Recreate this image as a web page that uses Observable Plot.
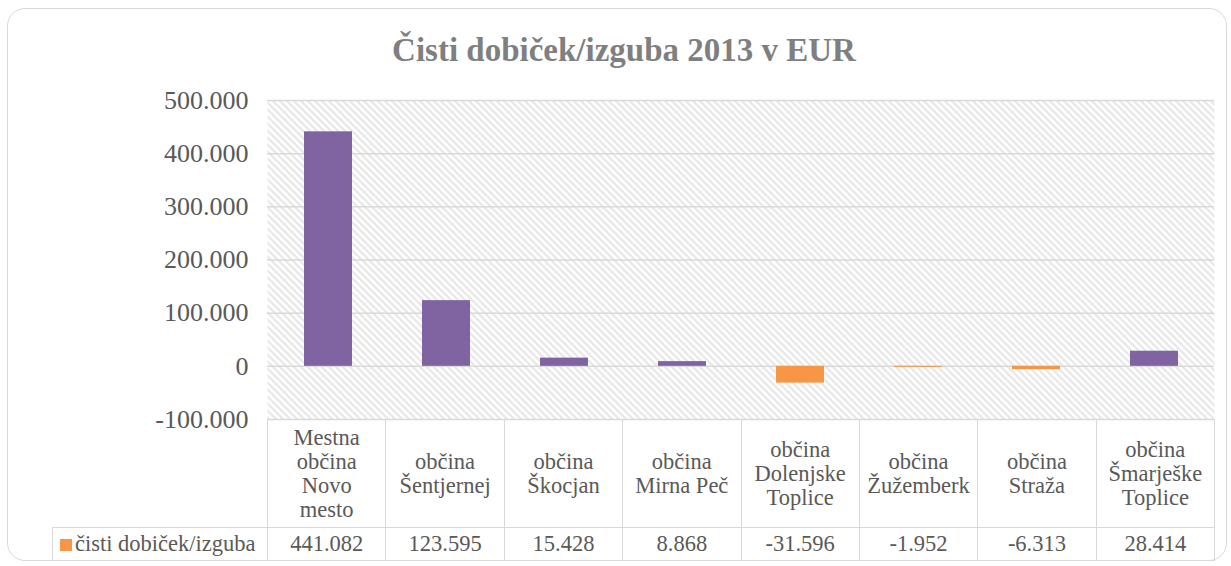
<!DOCTYPE html>
<html>
<head>
<meta charset="utf-8">
<script src="https://cdn.jsdelivr.net/npm/d3@7"></script>
<script src="https://cdn.jsdelivr.net/npm/@observablehq/plot@0.6"></script>
<style>
  html, body { margin: 0; padding: 0; background: #fff; overflow: hidden; }
  #wrap { position: relative; width: 1231px; height: 566px; font-family: "Liberation Serif", serif; }
  #card { position: absolute; left: 7px; top: 8px; width: 1220px; height: 553px;
          border: 1.5px solid #d9d9d9; border-radius: 18px; box-sizing: border-box; }
  #title { position: absolute; left: 0; width: 1248px; top: 30px; text-align: center;
           font-family: "Liberation Serif", serif;
           font-weight: bold; font-size: 33px; color: #7f7f7f; line-height: 40px; }
  #chart { position: absolute; left: 0; top: 80px; }
  #tbl { position: absolute; left: 52px; top: 419px; border-collapse: collapse; table-layout: fixed;
         color: #595959; font-family: "Liberation Serif", serif; font-size: 22.5px; }
  #tbl td { border: 1.5px solid #d9d9d9; text-align: center; vertical-align: middle; padding: 0;
            white-space: pre-line; line-height: 24px; font-family: "Liberation Serif", serif;
            font-size: 22.5px; color: #595959; }
  #tbl tr.cats td { height: 107px; }
  #tbl tr.vals td { height: 32px; }
  #tbl tr.cats td.blank { border-left: none; border-top: none; }
  .key { display: inline-block; width: 12px; height: 12px; background: #f79646; margin-right: 3px; vertical-align: 0px; }
</style>
</head>
<body>
<div id="wrap">
  <div id="card"></div>
  <div id="title"></div>
  <div id="chart"></div>
  <table id="tbl"></table>
</div>
<script>
const titleText = "Čisti dobiček/izguba 2013 v EUR";
const seriesName = "čisti dobiček/izguba";
const categories = [
  "Mestna\nobčina\nNovo\nmesto",
  "občina\nŠentjernej",
  "občina\nŠkocjan",
  "občina\nMirna Peč",
  "občina\nDolenjske\nToplice",
  "občina\nŽužemberk",
  "občina\nStraža",
  "občina\nŠmarješke\nToplice"
];
const values = [441082, 123595, 15428, 8868, -31596, -1952, -6313, 28414];
const yTicks = [-100000, 0, 100000, 200000, 300000, 400000, 500000];

const purple = "#8064a2";
const orange = "#f79646";

const locale = d3.formatLocale({decimal: ",", thousands: ".", grouping: [3], currency: ["", ""], minus: "-"});
const fmt = locale.format(",");

const data = categories.map((c, i) => ({cat: c, value: values[i]}));

document.getElementById("title").textContent = titleText;

const plot = Plot.plot({
  width: 1231,
  height: 486,
  marginLeft: 267,
  marginRight: 17,
  marginTop: 20,
  marginBottom: 147,
  style: {fontFamily: "Liberation Serif, serif", fontSize: "26px", color: "#595959", background: "transparent"},
  x: {domain: categories, paddingInner: 0.595, paddingOuter: 0.2975, axis: null},
  y: {domain: [-100000, 500000], axis: null},
  marks: [
    Plot.frame({fill: "url(#hatch)", stroke: "none"}),
    Plot.gridY(yTicks, {stroke: "#d9d9d9", strokeOpacity: 1, strokeWidth: 1.5}),
    Plot.barY(data.filter(d => d.value >= 0), {x: "cat", y: "value", fill: purple}),
    Plot.barY(data.filter(d => d.value < 0), {x: "cat", y: "value", fill: orange}),
    Plot.axisY(yTicks, {tickSize: 0, tickPadding: 19, tickFormat: fmt, fill: "#595959", fontSize: 26, label: null})
  ]
});

// hatch pattern definition for the plot background
const svgNS = "http://www.w3.org/2000/svg";
const defs = document.createElementNS(svgNS, "defs");
defs.innerHTML = '<pattern id="hatch" patternUnits="userSpaceOnUse" width="7" height="7">' +
  '<rect width="7" height="7" fill="#ffffff"/>' +
  '<path d="M-2,-2 L9,9 M-2,5 L2,9 M5,-2 L9,2" stroke="#e0e0e0" stroke-width="1.6"/>' +
  '</pattern>';
plot.insertBefore(defs, plot.firstChild);
document.getElementById("chart").appendChild(plot);

// data table below the chart
const tbl = d3.select("#tbl");
const colgroup = tbl.append("colgroup");
colgroup.append("col").style("width", "215px");
categories.forEach(() => colgroup.append("col").style("width", "118.375px"));
const r1 = tbl.append("tr").attr("class", "cats");
r1.append("td").attr("class", "blank");
r1.selectAll("td.c").data(categories).join("td").attr("class", "c").text(d => d);
const r2 = tbl.append("tr").attr("class", "vals");
const lc = r2.append("td").style("text-align", "left").style("padding-left", "7px");
lc.append("span").attr("class", "key");
lc.append("span").text(seriesName);
r2.selectAll("td.v").data(values).join("td").attr("class", "v").text(d => fmt(d));
</script>
</body>
</html>
